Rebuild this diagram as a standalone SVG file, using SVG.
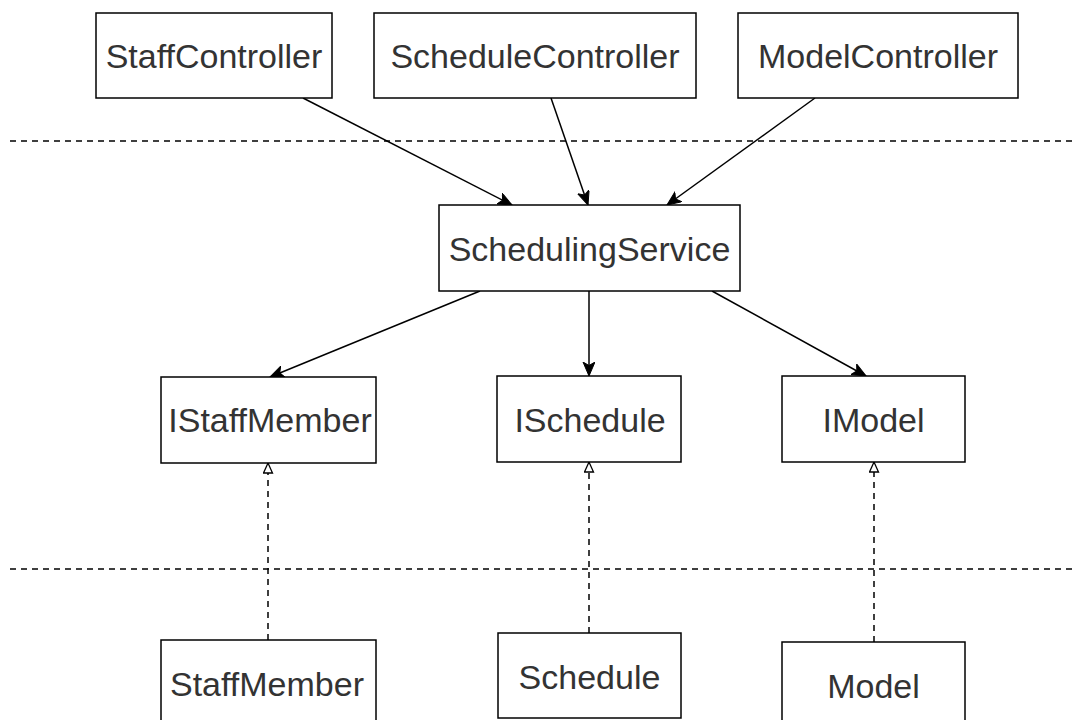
<svg xmlns="http://www.w3.org/2000/svg" width="1073" height="720" viewBox="0 0 1073 720">
<style>
.box{fill:#fff;stroke:#000;stroke-width:1.5}
.lbl{font-family:"Liberation Sans",Arial,sans-serif;font-size:34px;fill:#333;text-anchor:middle}
.sep{stroke:#000;stroke-width:1.5;stroke-dasharray:6 5;fill:none}
.assoc{stroke:#000;stroke-width:1.5;fill:none;marker-end:url(#filled)}
.real{stroke:#000;stroke-width:1.5;stroke-dasharray:6 5;fill:none;marker-end:url(#hollow)}
</style>
<defs>
<marker id="filled" markerUnits="userSpaceOnUse" markerWidth="16" markerHeight="14" refX="14" refY="6" orient="auto">
<path d="M0,0 L14,6 L0,12 L3.5,6 z" fill="#000" stroke="#000" stroke-width="1"/>
</marker>
<marker id="hollow" markerUnits="userSpaceOnUse" markerWidth="14" markerHeight="12" refX="11" refY="5" orient="auto">
<path d="M1,0.5 L11,5 L1,9.5 z" fill="#fff" stroke="#000" stroke-width="1.3"/>
</marker>
</defs>
<rect width="1073" height="720" fill="#fff"/>
<g id="separators">
<line class="sep" x1="10" y1="141" x2="1073" y2="141"/>
<line class="sep" x1="10" y1="569" x2="1073" y2="569"/>
</g>
<g id="connectors">
<line class="assoc" x1="303" y1="98" x2="512" y2="205"/>
<line class="assoc" x1="551" y1="98" x2="588" y2="205"/>
<line class="assoc" x1="815" y1="98" x2="667" y2="205"/>
<line class="assoc" x1="480" y1="291" x2="270" y2="377"/>
<line class="assoc" x1="589" y1="291" x2="589" y2="376"/>
<line class="assoc" x1="712" y1="291" x2="866" y2="376"/>
<line class="real" x1="268" y1="640" x2="268" y2="463"/>
<line class="real" x1="589" y1="633" x2="589" y2="462"/>
<line class="real" x1="874" y1="642" x2="874" y2="462"/>
</g>
<g id="StaffController"><rect class="box" x="96" y="13" width="236" height="85"/><text class="lbl" x="214" y="68">StaffController</text></g>
<g id="ScheduleController"><rect class="box" x="374" y="13" width="322" height="85"/><text class="lbl" x="535" y="68">ScheduleController</text></g>
<g id="ModelController"><rect class="box" x="738" y="13" width="280" height="85"/><text class="lbl" x="878" y="68">ModelController</text></g>
<g id="SchedulingService"><rect class="box" x="439" y="205" width="301" height="86"/><text class="lbl" x="589.5" y="261">SchedulingService</text></g>
<g id="IStaffMember"><rect class="box" x="161" y="377" width="215" height="86"/><text class="lbl" x="270" y="432">IStaffMember</text></g>
<g id="ISchedule"><rect class="box" x="497" y="376" width="184" height="86"/><text class="lbl" x="590" y="432">ISchedule</text></g>
<g id="IModel"><rect class="box" x="782" y="376" width="183" height="86"/><text class="lbl" x="873.5" y="432">IModel</text></g>
<g id="StaffMember"><rect class="box" x="161" y="640" width="215" height="86"/><text class="lbl" x="267" y="696">StaffMember</text></g>
<g id="Schedule"><rect class="box" x="498" y="633" width="183" height="85"/><text class="lbl" x="589.5" y="689">Schedule</text></g>
<g id="Model"><rect class="box" x="782" y="642" width="183" height="86"/><text class="lbl" x="873.5" y="698">Model</text></g>
</svg>
